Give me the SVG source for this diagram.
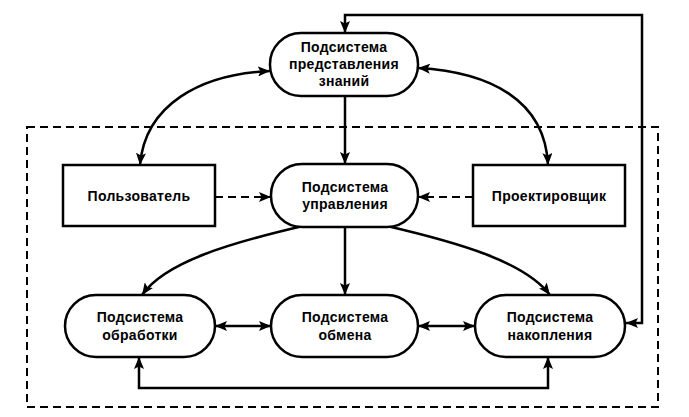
<svg xmlns="http://www.w3.org/2000/svg" width="689" height="417" viewBox="0 0 689 417">
<defs>
<marker id="ah" viewBox="0 0 12 10" refX="12" refY="5" markerWidth="12" markerHeight="10" markerUnits="userSpaceOnUse" orient="auto-start-reverse">
<path d="M0,0 L12,5 L0,10 L2.5,5 Z" fill="#000"/>
</marker>
</defs>
<style>
.node{fill:#fff;stroke:#000;stroke-width:2.5}
.t{font-family:"Liberation Sans",Arial,sans-serif;font-weight:bold;font-size:14px;letter-spacing:0.3px;text-anchor:middle;fill:#000}
.c{fill:none;stroke:#000;stroke-width:2.5}
.d{fill:none;stroke:#000;stroke-width:2;stroke-dasharray:8 5}
</style>
<rect x="0" y="0" width="689" height="417" fill="#fff"/>
<rect class="d" x="27" y="127" width="631" height="280"/>
<g id="connectors">
<path class="c" d="M345,96 V164" marker-end="url(#ah)"/>
<path class="c" d="M270,71 C200,74 145,105 140,165" marker-start="url(#ah)" marker-end="url(#ah)"/>
<path class="c" d="M418,68 C490,72 545,100 548,165" marker-start="url(#ah)" marker-end="url(#ah)"/>
<path class="d" d="M215,197 H271" marker-end="url(#ah)"/>
<path class="d" d="M473,197 H418" marker-end="url(#ah)"/>
<path class="c" d="M303,226 C230,243 165,262 142,295" marker-end="url(#ah)"/>
<path class="c" d="M345,227 V295" marker-end="url(#ah)"/>
<path class="c" d="M387,226 C460,243 525,262 550,295" marker-end="url(#ah)"/>
<path class="c" d="M215,326 H271" marker-start="url(#ah)" marker-end="url(#ah)"/>
<path class="c" d="M418,326 H475" marker-start="url(#ah)" marker-end="url(#ah)"/>
<path class="c" d="M139,357 V388 H548 V357" marker-start="url(#ah)" marker-end="url(#ah)"/>
<path class="c" d="M345,33 V15 H642 V323 H626" marker-start="url(#ah)" marker-end="url(#ah)"/>
</g>
<g id="knowledge">
<rect class="node" x="270" y="33" width="148" height="63" rx="31"/>
<text class="t" x="344" y="52">Подсистема</text>
<text class="t" x="344" y="69">представления</text>
<text class="t" x="344" y="86">знаний</text>
</g>
<g id="user">
<rect class="node" x="63" y="165" width="152" height="61"/>
<text class="t" x="139" y="201">Пользователь</text>
</g>
<g id="control">
<rect class="node" x="271" y="164" width="147" height="63" rx="31"/>
<text class="t" x="345" y="192">Подсистема</text>
<text class="t" x="345" y="209">управления</text>
</g>
<g id="designer">
<rect class="node" x="473" y="165" width="152" height="61"/>
<text class="t" x="549" y="201">Проектировщик</text>
</g>
<g id="processing">
<rect class="node" x="65" y="295" width="150" height="62" rx="31"/>
<text class="t" x="140" y="322">Подсистема</text>
<text class="t" x="140" y="340">обработки</text>
</g>
<g id="exchange">
<rect class="node" x="271" y="295" width="147" height="62" rx="31"/>
<text class="t" x="345" y="322">Подсистема</text>
<text class="t" x="345" y="340">обмена</text>
</g>
<g id="storage">
<rect class="node" x="475" y="295" width="150" height="62" rx="31"/>
<text class="t" x="550" y="322">Подсистема</text>
<text class="t" x="550" y="340">накопления</text>
</g>
</svg>
